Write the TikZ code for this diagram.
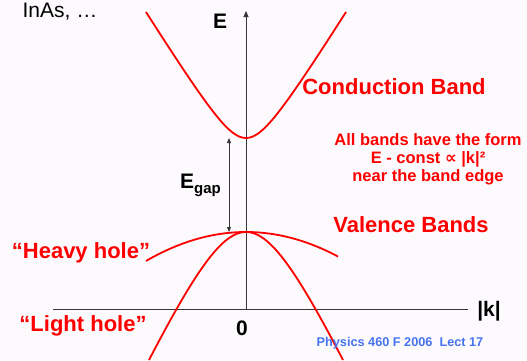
\documentclass[tikz,border=0pt]{standalone}
\usepackage{fontspec}
\setmainfont{Liberation Sans}
\newfontfamily\symfont{DejaVu Sans}
\usetikzlibrary{arrows.meta, positioning}
\definecolor{bandred}{RGB}{255,0,0}
\definecolor{footblue}{RGB}{70,115,240}
\definecolor{axisgray}{RGB}{55,55,55}
\definecolor{slidebg}{RGB}{252,250,253}

\begin{document}
\begin{tikzpicture}[x=1pt, y=-1pt,
        axis/.style={draw=axisgray, line width=0.9pt},
        band/.style={draw=bandred, line width=1.8pt},
        bigred/.style={text=bandred, inner sep=0pt, font=\fontsize{22}{26}\selectfont\bfseries},
        smallred/.style={text=bandred, inner sep=0pt, align=center, font=\fontsize{16.5}{18}\selectfont\bfseries},
        axislabel/.style={text=black, inner sep=0pt, font=\fontsize{21}{24}\selectfont\bfseries}
    ]
        % Slide background
        \fill[slidebg] (0,0) rectangle (527,360);

        % Axes
        \coordinate (origin) at (246,309);
        \coordinate (kstart) at (53,309);
        \coordinate (kend) at (468,309);
        \coordinate (etop) at (246,11);
        \coordinate (cbmin) at (246,138);
        \coordinate (vbmax) at (246,232);
        \draw[axis] (kstart) -- (kend);
        \draw[axis, -{Triangle[length=6pt, width=5pt]}] (origin) -- (etop);

        % Band curves
        \draw[band, shift={(cbmin)}] plot[domain=-100:100, samples=80, smooth]
            ({\x},{40-10*sqrt(16+(0.1611*\x)^2)});
        \draw[band, shift={(vbmax)}] plot[domain=-97:97, samples=80, smooth]
            ({\x},{10*sqrt(116.2+(0.2162*\x)^2)-107.8});
        \draw[band, shift={(vbmax)}] plot[domain=-100:92, samples=60, smooth]
            ({\x},{0.0029*\x*\x});

        % Gap arrow
        \draw[axis, {Triangle[length=5pt, width=4pt]}-{Triangle[length=5pt, width=4pt]}]
            ([xshift=-17pt]cbmin) -- ([xshift=-17pt]vbmax);
        \node[axislabel, anchor=base west] (egap) at (180,188)
            {E\raisebox{-5pt}{\fontsize{15}{15}\selectfont gap}};

        % Axis labels
        \node[axislabel] (elabel) at (220,21) {E};
        \node[axislabel] (klabel) at (489,311) {|k|};
        \node[axislabel] (zero) at (242,328) {0};
        \node[inner sep=0pt, font=\fontsize{21}{24}\selectfont] (material) at (60,12) {InAs, …};

        % Band names
        \node[bigred] (cband) at (394,87) {Conduction Band};
        \node[smallred] (form) at (428,159)
            {All bands have the form\\E - const {\symfont ∝} |k|²\\near the band edge};
        \node[bigred] (vband) at (411,225) {Valence Bands};
        \node[bigred] (heavy) at (81,253) {“Heavy hole”};
        \node[bigred] (light) at (83,326) {“Light hole”};

        % Footer
        \node[text=footblue, inner sep=0pt, font=\fontsize{12.7}{14}\selectfont\bfseries] (footer)
            at (400,343) {Physics 460 F 2006\ \ Lect 17};
    \end{tikzpicture}
\end{document}
